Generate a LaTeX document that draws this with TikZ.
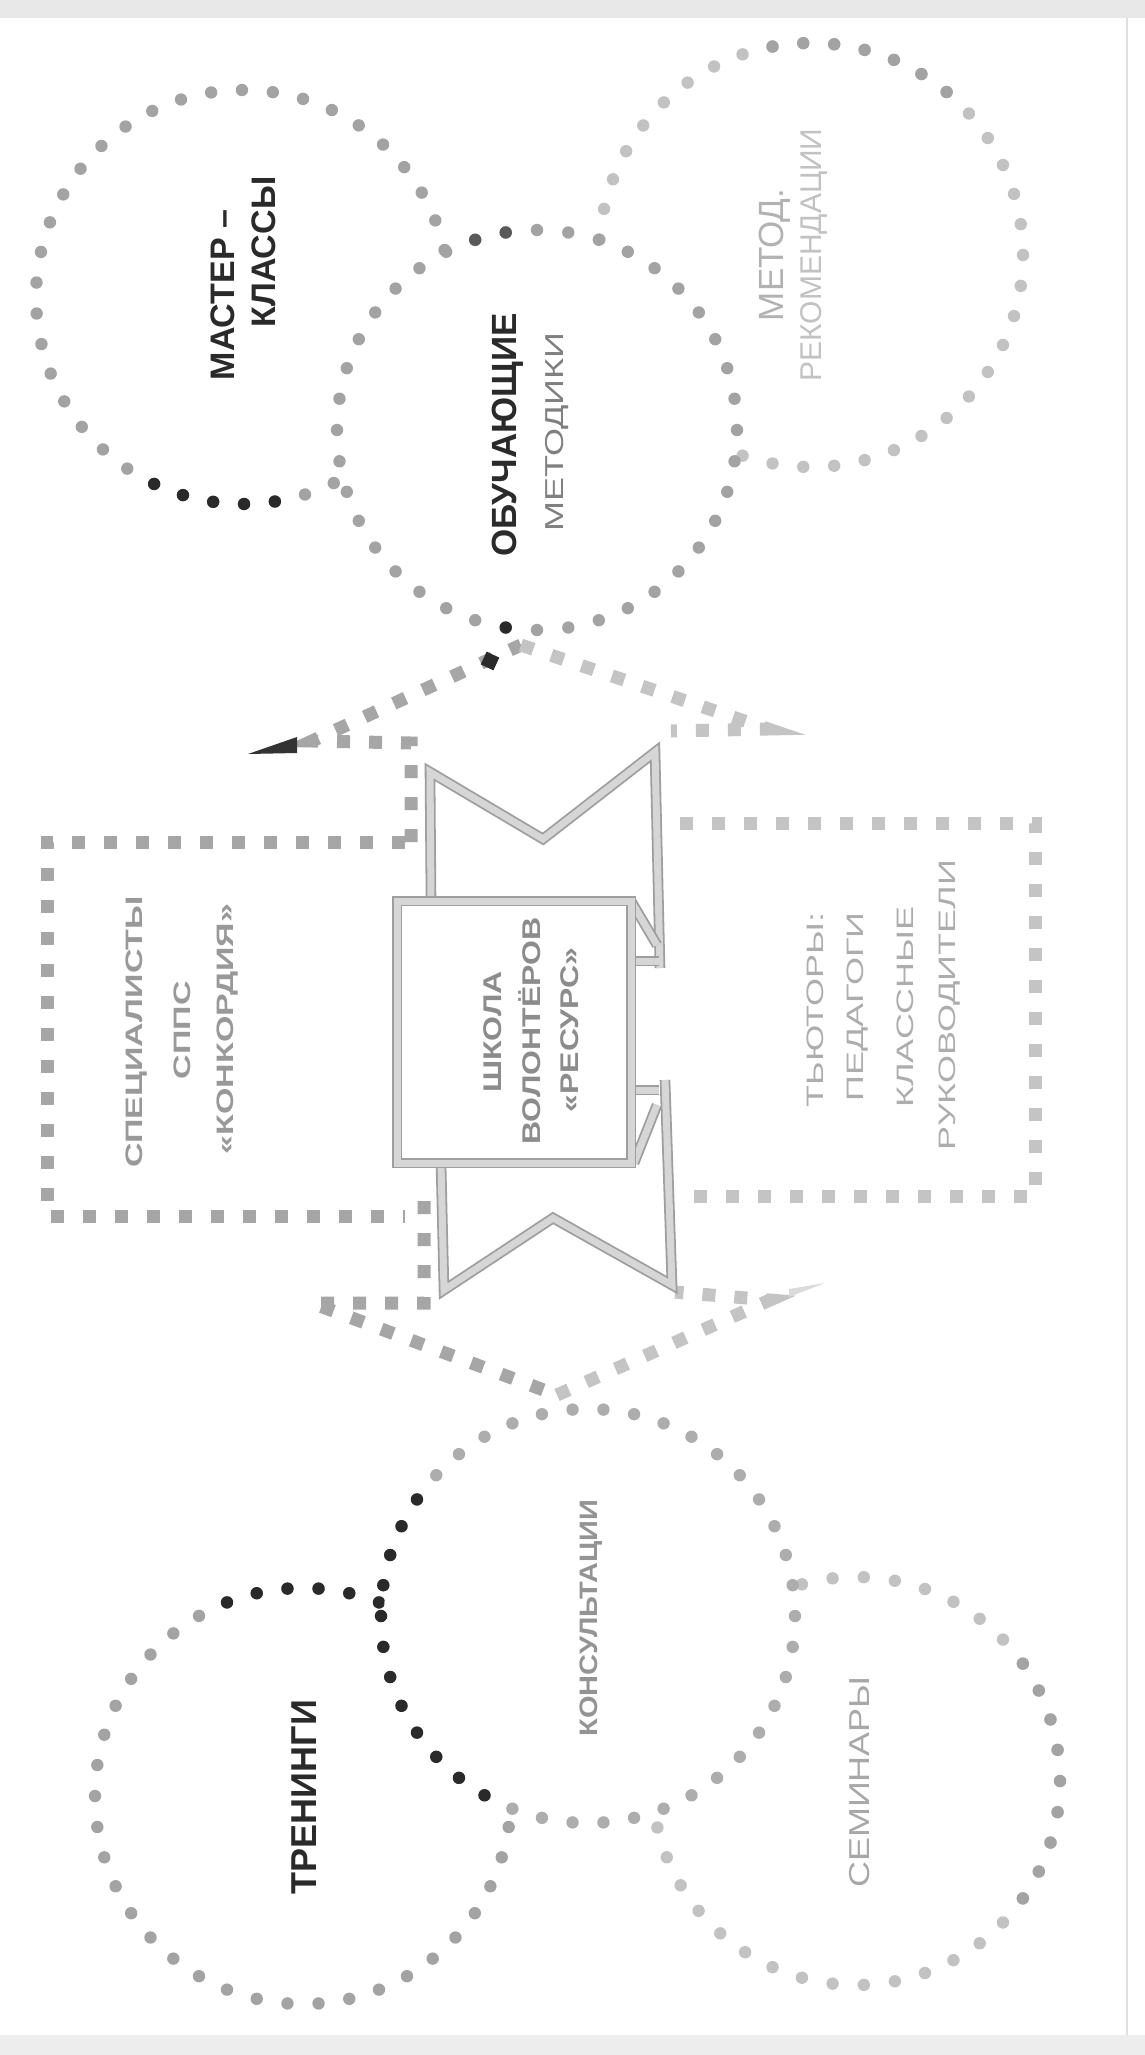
\documentclass[tikz,border=0pt]{standalone}
\usepackage{fontspec}
\setmainfont{Liberation Sans}
\definecolor{dmed}{HTML}{A3A3A3}
\definecolor{dlight}{HTML}{C2C2C2}
\definecolor{ddark}{HTML}{2A2A2A}
\definecolor{sqmed}{HTML}{A6A6A6}
\definecolor{sqlight}{HTML}{C4C4C4}
\definecolor{bandedge}{HTML}{9E9E9E}
\definecolor{bandfill}{HTML}{D6D6D6}
\newcommand\dotring[7]{\foreach \k in {#7}{\fill[#1] ({#2+#4*cos(#6+\k*360/#5)},{#3+#4*sin(#6+\k*360/#5)}) circle[radius=6.2pt];}}
\tikzset{
  lbl/.style={rotate=90, inner sep=0pt, anchor=center},
  sqline/.style={line width=13pt, dash pattern=on 13pt off 19pt},
  band/.style={draw=bandedge, double=bandfill, double distance=7pt, line width=1.8pt, line join=miter},
}
\begin{document}
\begin{tikzpicture}[x=1pt,y=-1pt]
\useasboundingbox (0,0) rectangle (1145,2055);
\fill[white] (0,0) rectangle (1145,2055);
\fill[black!9] (0,0) rectangle (1145,18);
\fill[black!7] (0,2035) rectangle (1145,2055);
\draw[black!12, line width=2pt] (1127,18) -- (1127,2035);

% circle centres
\coordinate (cMaster) at (243,297);
\coordinate (cObuch) at (537,430);
\coordinate (cMetod) at (811,255);
\coordinate (cTren) at (303,1796);
\coordinate (cKons) at (588,1616);
\coordinate (cSem) at (856,1781);

% upper cluster
\dotring{dmed}{243}{297}{207}{42}{4}{0,...,41}
\dotring{ddark}{243}{297}{207}{42}{4}{9,...,13}
\dotring{dlight}{811}{255}{212}{43}{0}{0,...,42}
\dotring{dmed}{811}{255}{212}{43}{0}{-12,...,-6}
\fill[white] (cObuch) circle[radius=197pt];
\dotring{dmed}{537}{430}{200}{40}{0}{0,...,39}
\dotring{black!65}{537}{430}{200}{40}{0}{-12,-11}
\dotring{ddark}{537}{430}{200}{40}{0}{11}

% lower cluster
\dotring{dmed}{303}{1796}{208}{42}{0}{0,...,41}
\dotring{ddark}{303}{1796}{208}{42}{0}{-13,...,-8}
\dotring{dlight}{856}{1781}{204}{41}{0}{0,...,40}
\dotring{dmed}{856}{1781}{204}{41}{0}{-4,...,4}
\fill[white] (cKons) circle[radius=204pt];
\dotring{black!32}{588}{1616}{207}{42}{0}{0,...,41}
\dotring{ddark}{588}{1616}{207}{42}{0}{14,...,25}

% dotted-square outlines
\draw[sqline, sqmed] (411,842) -- (411,743) -- (312,741) -- (521,645);
\draw[sqline, sqlight] (521,645) -- (768,729) -- (671,731);
\draw[sqline, sqmed] (405,842) -- (47,842) -- (47,1216) -- (405,1216);
\draw[sqline, sqmed] (424,1201) -- (424,1303) -- (312,1303) -- (557,1395);
\draw[sqline, sqlight] (557,1395) -- (770,1300) -- (675,1292);
\draw[sqline, sqlight] (680,823) -- (1035,823) -- (1035,1196) -- (680,1196);
\fill[ddark, rotate around={-25:(490,661)}] (483,654) rectangle (497,668);
\fill[black!80] (248,754) -- (297,737) -- (297,753) -- cycle;
\fill[black!14] (825,1283) -- (789,1289) -- (789,1297) -- cycle;

% central ribbon
\draw[band] (431,900) -- (430,772) -- (543,839) -- (655,752) -- (660,968);
\draw[band] (441,1163) -- (444,1290) -- (553,1218) -- (672,1285) -- (665,1080);
\draw[band] (631,901) -- (657,945);
\draw[band] (634,1163) -- (657,1105);
\draw[band] (631,961) -- (659,961);
\draw[band] (631,1090) -- (659,1090);
\draw[band, fill=white] (397,901) rectangle (631,1163);

% texts
\node[lbl, text=ddark] (tMaster1) at (223,295) {\fontsize{34}{40}\selectfont\bfseries МАСТЕР –};
\node[lbl, text=ddark] (tMaster2) at (264,252) {\fontsize{34}{40}\selectfont\bfseries КЛАССЫ};
\node[lbl, text=ddark] (tObuch1) at (508,435) {\fontsize{35}{40}\selectfont\bfseries ОБУЧАЮЩИЕ};
\node[lbl, yscale=0.72, text=black!50] (tObuch2) at (557,432) {\fontsize{36}{40}\selectfont МЕТОДИКИ};
\node[lbl, text=black!30] (tMetod1) at (775,255) {\fontsize{35}{40}\selectfont МЕТОД.};
\node[lbl, text=black!24] (tMetod2) at (814,255) {\fontsize{30}{36}\selectfont РЕКОМЕНДАЦИИ};
\node[lbl, yscale=0.7, text=black!40] (tSpec1) at (137,1032) {\fontsize{34}{40}\selectfont\bfseries СПЕЦИАЛИСТЫ};
\node[lbl, yscale=0.7, text=black!40] (tSpec2) at (182,1030) {\fontsize{34}{40}\selectfont\bfseries СППС};
\node[lbl, yscale=0.7, text=black!40] (tSpec3) at (228,1029) {\fontsize{34}{40}\selectfont\bfseries «КОНКОРДИЯ»};
\node[lbl, yscale=0.8, text=black!45] (tSchool1) at (493,1032) {\fontsize{32}{38}\selectfont\bfseries ШКОЛА};
\node[lbl, yscale=0.8, text=black!45] (tSchool2) at (530,1031) {\fontsize{32}{38}\selectfont\bfseries ВОЛОНТЁРОВ};
\node[lbl, yscale=0.8, text=black!45] (tSchool3) at (570,1030) {\fontsize{32}{38}\selectfont\bfseries «РЕСУРС»};
\node[lbl, yscale=0.66, text=black!32] (tTut1) at (815,1010) {\fontsize{36}{40}\selectfont ТЬЮТОРЫ:};
\node[lbl, yscale=0.66, text=black!32] (tTut2) at (858,1007) {\fontsize{36}{40}\selectfont ПЕДАГОГИ};
\node[lbl, yscale=0.66, text=black!32] (tTut3) at (905,1007) {\fontsize{36}{40}\selectfont КЛАССНЫЕ};
\node[lbl, yscale=0.66, text=black!32] (tTut4) at (950,1005) {\fontsize{36}{40}\selectfont РУКОВОДИТЕЛИ};
\node[lbl, text=ddark] (tTren) at (304,1797) {\fontsize{36}{40}\selectfont\bfseries ТРЕНИНГИ};
\node[lbl, yscale=0.87, text=black!42] (tKons) at (591,1618) {\fontsize{29}{34}\selectfont\bfseries КОНСУЛЬТАЦИИ};
\node[lbl, yscale=0.8, text=black!34] (tSem) at (860,1782) {\fontsize{36}{40}\selectfont СЕМИНАРЫ};
\end{tikzpicture}
\end{document}
